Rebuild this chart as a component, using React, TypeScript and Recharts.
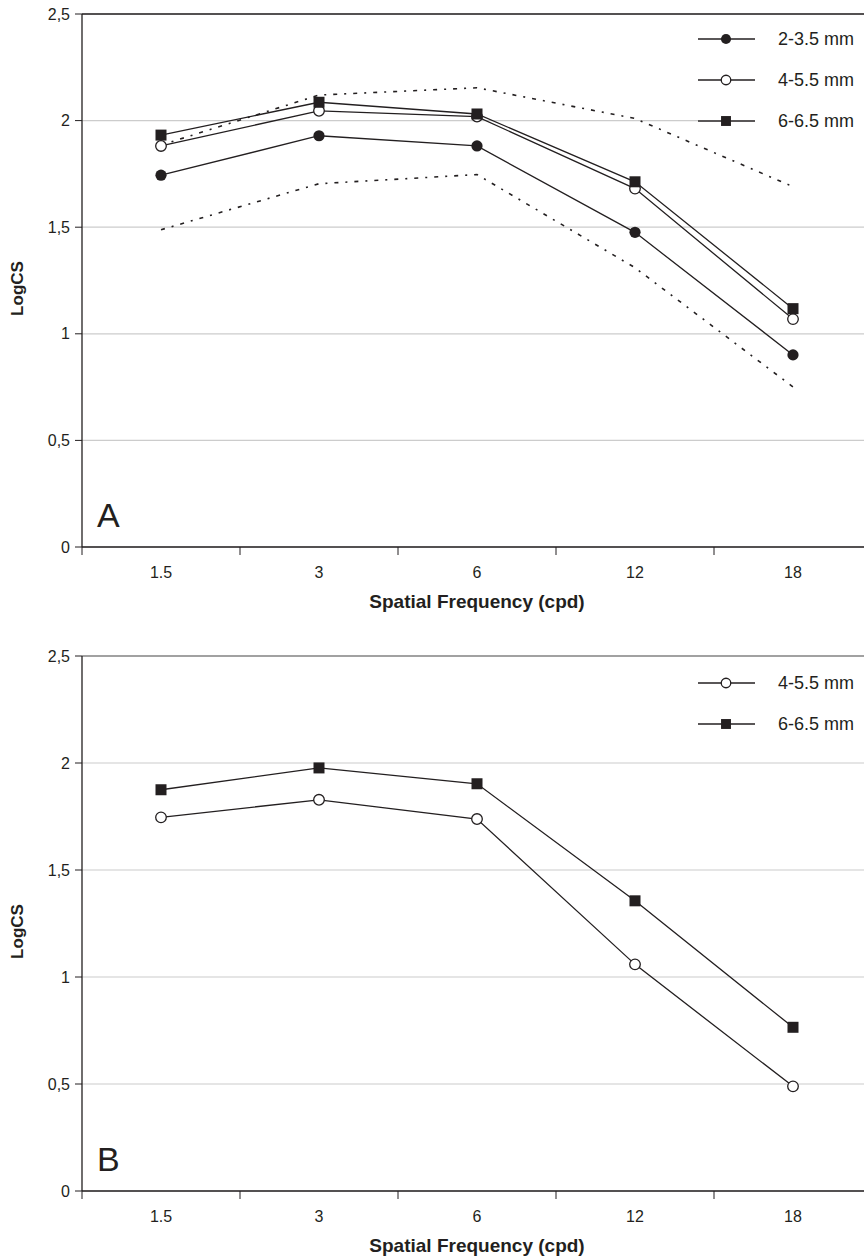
import React from 'react';
import { LineChart, Line, XAxis, YAxis, CartesianGrid, ReferenceLine, Legend } from 'recharts';

const frequencies = ['1.5', '3', '6', '12', '18'];
const yTicks = [0, 0.5, 1, 1.5, 2, 2.5];

// panel A
const pupil2A = [1.744, 1.929, 1.881, 1.476, 0.901];
const pupil4A = [1.881, 2.046, 2.019, 1.681, 1.069];
const pupil6A = [1.932, 2.086, 2.031, 1.713, 1.118];
const upperLimitA = [1.885, 2.12, 2.154, 2.01, 1.69];
const lowerLimitA = [1.488, 1.704, 1.747, 1.31, 0.751];

// panel B
const pupil4B = [1.746, 1.828, 1.738, 1.059, 0.489];
const pupil6B = [1.875, 1.977, 1.903, 1.356, 0.765];

const INK = '#231f20';
const HALF_STEP = 79;
const FONT = '"Liberation Sans", Arial, sans-serif';

const dataA = frequencies.map((f, i) => ({
    freq: f,
    p2: pupil2A[i],
    p4: pupil4A[i],
    p6: pupil6A[i],
    upper: upperLimitA[i],
    lower: lowerLimitA[i],
}));

const dataB = frequencies.map((f, i) => ({
    freq: f,
    p4: pupil4B[i],
    p6: pupil6B[i],
}));

type Marker = 'filled' | 'open' | 'square';

const drawMarker = (kind: Marker, cx: number, cy: number, key?: any, scale = 1) => {
    if (kind === 'square') {
        const s = 11 * scale;
        return <rect key={key} x={cx - s / 2} y={cy - s / 2} width={s} height={s} fill={INK} />;
    }
    if (kind === 'open') {
        return <circle key={key} cx={cx} cy={cy} r={5.3 * scale} fill="#fff" stroke={INK} strokeWidth={1.3} />;
    }
    return <circle key={key} cx={cx} cy={cy} r={5.6 * scale} fill={INK} />;
};

const markerDot = (kind: Marker) => (p: any) => {
    if (p.cx == null || p.cy == null) return <g key={p.index} />;
    return drawMarker(kind, p.cx, p.cy, `${kind}-${p.index}`);
};

const FreqTick = (props: any) => {
    const { x, y, payload, index } = props;
    return (
        <g>
            <line x1={x - HALF_STEP} x2={x - HALF_STEP} y1={y - 8} y2={y} stroke={INK} strokeWidth={1} />
            {index === frequencies.length - 1 && (
                <line x1={x + HALF_STEP} x2={x + HALF_STEP} y1={y - 8} y2={y} stroke={INK} strokeWidth={1} />
            )}
            <text x={x} y={y + 23} textAnchor="middle" fontSize={16} fill={INK} fontFamily={FONT}>
                {payload.value}
            </text>
        </g>
    );
};

const YTitle = (props: any) => {
    const vb = props.viewBox;
    const cx = vb.x + 23;
    const cy = vb.y + vb.height / 2 + 8;
    return (
        <text x={cx} y={cy} transform={`rotate(-90 ${cx} ${cy})`} textAnchor="middle" fontSize={17}
            fontWeight="bold" fill={INK} fontFamily={FONT}>
            LogCS
        </text>
    );
};

const XTitle = (props: any) => {
    const vb = props.viewBox;
    return (
        <text x={vb.x + vb.width / 2} y={vb.y + 61} textAnchor="middle" fontSize={19}
            fontWeight="bold" fill={INK} fontFamily={FONT}>
            Spatial Frequency (cpd)
        </text>
    );
};

interface Entry {
    label: string
    marker: Marker
}

const legendContent = (entries: Entry[]) => () => (
    <div style={{ fontFamily: FONT, fontSize: 18, color: INK }}>
        {entries.map((e) => (
            <div key={e.label} style={{ display: 'flex', alignItems: 'center', height: 24, marginBottom: 17, background: '#fff' }}>
                <svg width={58} height={14} style={{ display: 'block' }}>
                    <line x1={0} x2={57} y1={7} y2={7} stroke={INK} strokeWidth={1.3} />
                    {drawMarker(e.marker, 28, 7, undefined, 0.9)}
                </svg>
                <span style={{ marginLeft: 22, whiteSpace: 'nowrap' }}>{e.label}</span>
            </div>
        ))}
    </div>
);

interface Series {
    key: string
    marker?: Marker
    dashed?: boolean
}

interface PanelProps {
    data: any[]
    series: Series[]
    legend: Entry[]
    letter: string
    top: number
    height: number
    legendTop: number
    topLine: string
}

const Panel: React.FC<PanelProps> = ({ data, series, legend, letter, top, height, legendTop, topLine }) => {
    return (
        <div style={{ position: 'absolute', left: 0, top, width: 880, height }}>
            <LineChart width={880} height={height} data={data} margin={{ top: 14, right: 8, bottom: 8, left: 0 }}>
                <CartesianGrid vertical={false} stroke="#cccccc" strokeWidth={1.2} />
                <ReferenceLine y={2.5} stroke={topLine} strokeWidth={1.3} />
                <XAxis dataKey="freq" type="category" padding={{ left: HALF_STEP, right: HALF_STEP }}
                    tick={FreqTick} tickLine={false} tickSize={8} tickMargin={0} interval={0}
                    axisLine={{ stroke: INK, strokeWidth: 1.3 }} height={60}
                    label={{ content: XTitle }} />
                <YAxis type="number" domain={[0, 2.5]} ticks={yTicks} width={82}
                    tickFormatter={(v: number) => String(v).replace('.', ',')}
                    tick={{ fontSize: 16, fill: INK, fontFamily: FONT }}
                    tickSize={7} tickMargin={5}
                    tickLine={{ stroke: INK }} axisLine={{ stroke: INK, strokeWidth: 1.3 }}
                    label={{ content: YTitle }} />
                <Legend layout="horizontal" verticalAlign="middle" align="center"
                    wrapperStyle={{ top: legendTop, left: 698, width: 166, height: 'auto' }}
                    content={legendContent(legend)} />
                {series.map((s) => s.dashed ? (
                    <Line key={s.key} dataKey={s.key} stroke={INK} strokeWidth={1.6} strokeDasharray="4 7 2 7"
                        dot={false} activeDot={false} legendType="none" isAnimationActive={false} />
                ) : (
                    <Line key={s.key} dataKey={s.key} stroke={INK} strokeWidth={1.3}
                        dot={markerDot(s.marker!)} activeDot={false} isAnimationActive={false} />
                ))}
            </LineChart>
            <div style={{ position: 'absolute', left: 97, top: height - 117, fontFamily: FONT, fontSize: 34, lineHeight: 1, color: INK }}>
                {letter}
            </div>
        </div>
    );
};

export default function App() {
    return (
        <div style={{ position: 'absolute', left: 0, top: 0, width: 864, height: 1256, overflow: 'hidden', background: '#fff' }}>
            <Panel
                data={dataA}
                top={0}
                height={615}
                legendTop={27}
                topLine={INK}
                letter="A"
                series={[
                    { key: 'upper', dashed: true },
                    { key: 'lower', dashed: true },
                    { key: 'p2', marker: 'filled' },
                    { key: 'p4', marker: 'open' },
                    { key: 'p6', marker: 'square' },
                ]}
                legend={[
                    { label: '2-3.5 mm', marker: 'filled' },
                    { label: '4-5.5 mm', marker: 'open' },
                    { label: '6-6.5 mm', marker: 'square' },
                ]}
            />
            <Panel
                data={dataB}
                top={642}
                height={617}
                legendTop={29}
                topLine="#8a8a8a"
                letter="B"
                series={[
                    { key: 'p4', marker: 'open' },
                    { key: 'p6', marker: 'square' },
                ]}
                legend={[
                    { label: '4-5.5 mm', marker: 'open' },
                    { label: '6-6.5 mm', marker: 'square' },
                ]}
            />
        </div>
    );
}
